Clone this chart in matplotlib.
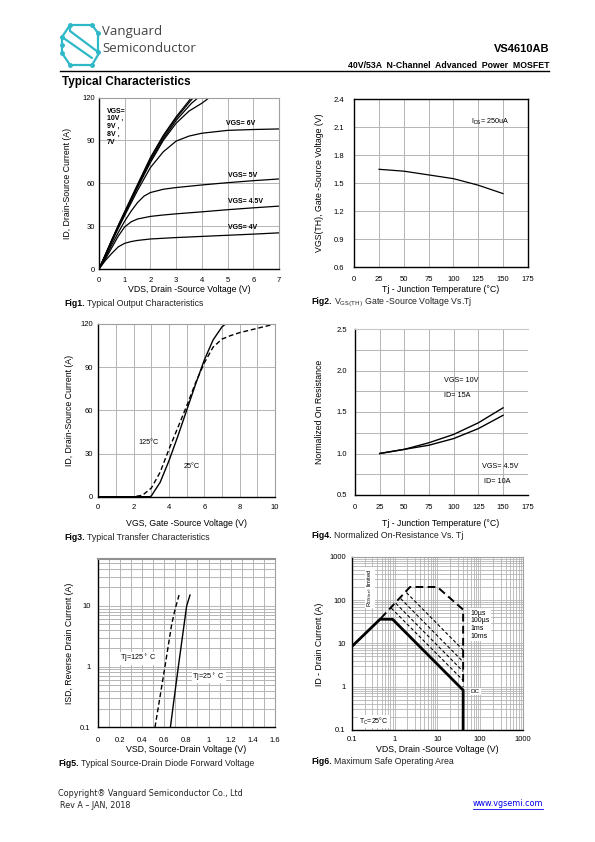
import matplotlib
matplotlib.use("Agg")
import matplotlib.pyplot as plt
from matplotlib.ticker import FixedLocator, NullFormatter, LogLocator
import warnings
warnings.filterwarnings("ignore")

W, H = 595, 842
NARROW = ['Liberation Sans Narrow', 'Liberation Sans', 'DejaVu Sans']
ARIAL = ['Liberation Sans', 'DejaVu Sans']
GRID = '#b4b4b4'

# ---------------- data ----------------
# Fig1 output characteristics
f1_x_10v = [0, 0.25, 0.5, 0.75, 1, 1.5, 2, 2.5, 3, 3.6, 3.8]
f1_y_10v = [0, 10.2, 20.6, 30.6, 40.2, 59.2, 78, 93.5, 106.5, 120, 124]
f1_x_9v = [0, 0.25, 0.5, 0.75, 1, 1.5, 2, 2.5, 3, 3.6, 3.9]
f1_y_9v = [0, 10, 20.3, 30.2, 39.7, 58.5, 77, 92.5, 105.5, 118.5, 124]
f1_x_8v = [0, 0.25, 0.5, 0.75, 1, 1.5, 2, 2.5, 3, 3.6, 4.0]
f1_y_8v = [0, 9.8, 20, 29.8, 39.2, 57.8, 75.8, 91, 104, 116, 122]
f1_x_7v = [0, 0.25, 0.5, 0.75, 1, 1.5, 2, 2.5, 3, 3.5, 4, 4.3, 4.6]
f1_y_7v = [0, 9.5, 19.5, 29.3, 38.6, 57, 74.5, 90, 102, 110.5, 116, 120, 123]
f1_x_6v = [0, 0.25, 0.5, 0.75, 1, 1.5, 2, 2.5, 3, 3.5, 4, 5, 6, 7]
f1_y_6v = [0, 9.2, 19, 28.5, 37.5, 55, 71, 82, 89.5, 93, 95, 97, 97.6, 98]
f1_x_5v = [0, 0.25, 0.5, 0.75, 1, 1.25, 1.5, 1.75, 2, 2.5, 3, 4, 5, 6, 7]
f1_y_5v = [0, 8, 17, 25.5, 33.5, 40.5, 46.5, 51, 53.5, 55.8, 57, 58.8, 60.4, 61.8, 63]
f1_x_45v = [0, 0.25, 0.5, 0.75, 1, 1.25, 1.5, 2, 2.5, 3, 4, 5, 6, 7]
f1_y_45v = [0, 7, 15, 23, 29.5, 33, 35, 36.8, 37.8, 38.6, 40, 41.5, 42.8, 44]
f1_x_4v = [0, 0.25, 0.5, 0.75, 1, 1.25, 1.5, 2, 3, 4, 5, 6, 7]
f1_y_4v = [0, 6, 11, 15.5, 18, 19.2, 20, 21, 22, 22.8, 23.6, 24.4, 25.3]

# Fig2 threshold voltage vs Tj
f2_tj = [25, 50, 75, 100, 125, 150]
f2_vth = [1.65, 1.63, 1.59, 1.55, 1.48, 1.39]

# Fig3 transfer characteristics
f3_vgs_25 = [0, 2.9, 3.0, 3.5, 4.0, 4.5, 5.0, 5.5, 6.0, 6.5, 7.0, 7.2]
f3_id_25 = [0, 0, 0.5, 10, 25, 42, 60, 78, 95, 109, 118, 120]
f3_vgs_125 = [0, 2.0, 2.5, 3.0, 3.5, 4.0, 4.5, 5.0, 5.5, 6.0, 6.5, 7.0, 7.5, 8.0, 9.0, 10.0]
f3_id_125 = [0, 0, 1, 6, 17, 33, 48, 63, 79, 93, 104, 109.5, 112, 114, 117, 120]

# Fig4 normalized on-resistance
f4_tj = [25, 50, 75, 100, 125, 150]
f4_r_10v = [1.0, 1.05, 1.13, 1.23, 1.37, 1.55]
f4_r_45v = [1.0, 1.05, 1.10, 1.18, 1.30, 1.46]

# Fig5 body diode
f5_vsd_125 = [0.517, 0.56, 0.607, 0.668, 0.70, 0.734]
f5_isd_125 = [0.1, 0.3, 1.0, 5.0, 9.0, 15.0]
f5_vsd_25 = [0.656, 0.69, 0.728, 0.773, 0.803, 0.833]
f5_isd_25 = [0.1, 0.3, 1.0, 4.0, 10.0, 15.0]

# Fig6 SOA
f6_dc_v = [0.1, 0.46, 0.9, 40, 40]
f6_dc_i = [8.4, 36, 36, 0.83, 0.1]
f6_lim_v = [0.48, 2.3, 10, 40, 40]
f6_lim_i = [38, 200, 200, 60, 1.0]
f6_10us_v = [1.9, 40]
f6_10us_i = [148, 7.0]
f6_100us_v = [1.39, 40]
f6_100us_i = [108, 3.75]
f6_1ms_v = [1.07, 40]
f6_1ms_i = [84, 2.25]
f6_10ms_v = [0.84, 40]
f6_10ms_i = [65, 1.4]

fig = plt.figure(figsize=(W / 100, H / 100), dpi=100)


def rect(l, t, r, b):
    return [l / W, 1 - b / H, (r - l) / W, (b - t) / H]


def T(x, y, s, **kw):
    return fig.text(x / W, 1 - y / H, s, **kw)


def style(ax, xpad, ypad, gray_tr=True):
    ax.tick_params(which='both', length=0, labelsize=5.5, pad=0)
    ax.tick_params(axis='x', pad=xpad * 0.72)
    ax.tick_params(axis='y', pad=ypad * 0.72)
    for lab in ax.get_xticklabels() + ax.get_yticklabels():
        lab.set_family(NARROW)
    for s in ['left', 'bottom']:
        ax.spines[s].set_color('black')
        ax.spines[s].set_linewidth(1.0)
    for s in ['top', 'right']:
        ax.spines[s].set_color('#a0a0a0' if gray_tr else 'black')
        ax.spines[s].set_linewidth(0.8 if gray_tr else 1.0)
    ax.set_axisbelow(True)


def caption(x, y, num, txt):
    t1 = T(x, y, num, fontsize=6.3, fontweight='bold', family=ARIAL, va='center')
    fig.canvas.draw()
    bb = t1.get_window_extent()
    T(bb.x1 + 2, y, txt, fontsize=6.3, family=ARIAL, va='center', color='#222222')


# ---------------- header ----------------
teal = '#2fb8c8'
logo_lines = [
    ([70, 92], [25, 25]), ([70, 62], [25, 37]), ([62, 62], [37, 45]),
    ([62, 92], [37, 58]), ([70, 98], [31, 52]), ([92, 98], [25, 33]),
    ([98, 98], [33, 52]), ([70, 92], [65, 65]), ([92, 98], [65, 55]),
    ([62, 70], [53, 65]), ([62, 62], [45, 53]), ([70, 70], [25, 31]),
]
lax = fig.add_axes([0, 0, 1, 1], facecolor='none')
lax.set_xlim(0, W)
lax.set_ylim(H, 0)
lax.axis('off')
for xs, ys in logo_lines:
    lax.plot(xs, ys, color=teal, lw=1.6, solid_capstyle='round')
node_x = [70, 92, 62, 62, 98, 98, 70, 92, 62]
node_y = [25, 25, 37, 53, 33, 52, 65, 65, 45]
lax.plot(node_x, node_y, 'o', color=teal, ms=2.5)
lax.plot([60, 549], [71, 71], color='black', lw=1.0)

T(102, 31, 'Vanguard', fontsize=9.5, family=['Open Sans', 'DejaVu Sans'], color='#444444', va='center')
T(102, 48, 'Semiconductor', fontsize=9.5, family=['Open Sans', 'DejaVu Sans'], color='#444444', va='center')
T(549, 49, 'VS4610AB', fontsize=8, fontweight='bold', family=ARIAL, ha='right', va='center')
T(549, 65, '40V/53A  N-Channel  Advanced  Power  MOSFET', fontsize=6.3, fontweight='bold',
  family=ARIAL, ha='right', va='center')
T(62, 82, 'Typical Characteristics', fontsize=8.5, fontweight='bold', family=ARIAL, va='center')

# ---------------- Fig1 ----------------
ax1 = fig.add_axes(rect(99, 97.5, 279, 269))
for xs, ys in [(f1_x_10v, f1_y_10v), (f1_x_9v, f1_y_9v), (f1_x_8v, f1_y_8v), (f1_x_7v, f1_y_7v),
               (f1_x_6v, f1_y_6v), (f1_x_5v, f1_y_5v), (f1_x_45v, f1_y_45v), (f1_x_4v, f1_y_4v)]:
    ax1.plot(xs, ys, color='black', lw=0.9)
ax1.set_xlim(0, 7)
ax1.set_ylim(0, 120)
ax1.set_xticks(range(0, 8))
ax1.set_yticks([0, 30, 60, 90, 120])
ax1.grid(True, color=GRID, lw=0.7)
style(ax1, 8, 4)
bold_n = dict(fontsize=5, fontweight='bold', family=NARROW, va='center')
ax1.text(4.95, 102, 'VGS= 6V', **bold_n)
ax1.text(5.0, 65.7, 'VGS= 5V', **bold_n)
ax1.text(5.0, 47, 'VGS= 4.5V', **bold_n)
ax1.text(5.0, 29, 'VGS= 4V', **bold_n)
ax1.text(0.3, 113, 'VGS=\n10V ,\n9V ,\n8V ,\n7V', fontsize=5, fontweight='bold', family=NARROW,
         va='top', linespacing=1.15)
T(68, 183, 'ID, Drain-Source Current (A)', rotation=90, fontsize=6.3, family=ARIAL, ha='center', va='center')
T(189, 290, 'VDS, Drain -Source Voltage (V)', fontsize=6.3, family=ARIAL, ha='center', va='center')
caption(64, 303, 'Fig1.', 'Typical Output Characteristics')

# ---------------- Fig2 ----------------
ax2 = fig.add_axes(rect(354.3, 99.3, 527.7, 267.3))
ax2.plot(f2_tj, f2_vth, color='black', lw=0.9)
ax2.set_xlim(0, 175)
ax2.set_ylim(0.6, 2.4)
ax2.set_xticks(range(0, 176, 25))
ax2.set_yticks([0.6, 0.9, 1.2, 1.5, 1.8, 2.1, 2.4])
ax2.set_yticklabels(['0.6', '0.9', '1.2', '1.5', '1.8', '2.1', '2.4'])
ax2.grid(True, color=GRID, lw=0.7)
style(ax2, 9, 10, gray_tr=False)
ax2.text(117.5, 2.155, r'I$_{\rm DS}$= 250uA', fontsize=5.2, family=NARROW, va='center')
T(320, 183, 'VGS(TH), Gate -Source Voltage (V)', rotation=90, fontsize=6.3, family=ARIAL,
  ha='center', va='center')
T(441, 290, 'Tj - Junction Temperature (°C)', fontsize=6.3, family=ARIAL, ha='center', va='center')
caption(311, 302, 'Fig2.', r'V$_{\rm GS(TH)}$ Gate -Source Voltage Vs.Tj')

# ---------------- Fig3 ----------------
ax3 = fig.add_axes(rect(98.3, 324, 275, 496.7))
ax3.plot(f3_vgs_25, f3_id_25, color='black', lw=1.0)
ax3.plot(f3_vgs_125, f3_id_125, color='black', lw=1.0, dashes=(3.5, 2))
ax3.set_xlim(0, 10)
ax3.set_ylim(0, 120)
ax3.set_xticks(range(0, 11, 2))
ax3.xaxis.set_minor_locator(FixedLocator(range(1, 11, 2)))
ax3.set_yticks([0, 30, 60, 90, 120])
ax3.grid(True, which='both', color=GRID, lw=0.7)
style(ax3, 7, 5.5)
ax3.text(2.26, 37.8, '125°C', fontsize=5.2, family=NARROW, va='center')
ax3.text(4.81, 20.8, '25°C', fontsize=5.2, family=NARROW, va='center')
T(69, 410, 'ID, Drain-Source Current (A)', rotation=90, fontsize=6.3, family=ARIAL, ha='center', va='center')
T(186, 524, 'VGS, Gate -Source Voltage (V)', fontsize=6.3, family=ARIAL, ha='center', va='center')
caption(64, 538, 'Fig3.', 'Typical Transfer Characteristics')

# ---------------- Fig4 ----------------
ax4 = fig.add_axes(rect(355, 329, 527.7, 495))
ax4.plot(f4_tj, f4_r_10v, color='black', lw=1.0)
ax4.plot(f4_tj, f4_r_45v, color='black', lw=1.0)
ax4.set_xlim(0, 175)
ax4.set_ylim(0.5, 2.5)
ax4.set_xticks(range(0, 176, 25))
ax4.set_yticks([0.5, 1.0, 1.5, 2.0, 2.5])
ax4.set_yticklabels(['0.5', '1.0', '1.5', '2.0', '2.5'])
ax4.yaxis.set_minor_locator(FixedLocator([0.75, 1.25, 1.75, 2.25]))
ax4.yaxis.set_minor_formatter(NullFormatter())
ax4.grid(True, which='both', color=GRID, lw=0.7)
style(ax4, 9, 7.7)
ax4.spines['right'].set_visible(False)
ax4.spines['top'].set_color('#c8c8c8')
lab4 = dict(fontsize=5.2, family=NARROW, va='center')
ax4.text(90.5, 1.877, 'VGS= 10V', **lab4)
ax4.text(90.5, 1.693, 'ID= 15A', **lab4)
ax4.text(128.4, 0.841, 'VGS= 4.5V', **lab4)
ax4.text(131, 0.66, 'ID= 10A', **lab4)
T(320, 412, 'Normalized On Resistance', rotation=90, fontsize=6.3, family=ARIAL, ha='center', va='center')
T(441, 524, 'Tj - Junction Temperature (°C)', fontsize=6.3, family=ARIAL, ha='center', va='center')
caption(311, 535, 'Fig4.', 'Normalized On-Resistance Vs. Tj')

# ---------------- Fig5 ----------------
ax5 = fig.add_axes(rect(97.7, 558.5, 275, 727.3))
ax5.plot(f5_vsd_125, f5_isd_125, color='black', lw=1.0, dashes=(3.5, 2))
ax5.plot(f5_vsd_25, f5_isd_25, color='black', lw=1.0)
ax5.set_yscale('log')
ax5.set_xlim(0, 1.6)
ax5.set_ylim(0.1, 60)
ax5.set_xticks([0, 0.2, 0.4, 0.6, 0.8, 1.0, 1.2, 1.4, 1.6])
ax5.set_xticklabels(['0', '0.2', '0.4', '0.6', '0.8', '1', '1.2', '1.4', '1.6'])
ax5.xaxis.set_minor_locator(FixedLocator([0.1, 0.3, 0.5, 0.7, 0.9, 1.1, 1.3, 1.5]))
ax5.set_yticks([0.1, 1, 10])
ax5.set_yticklabels(['0.1', '1', '10'])
ax5.yaxis.set_minor_locator(LogLocator(base=10, subs=range(2, 10)))
ax5.yaxis.set_minor_formatter(NullFormatter())
ax5.grid(True, which='both', color=GRID, lw=0.7)
style(ax5, 10, 7)
ax5.spines['top'].set_color('#909090')
ax5.spines['top'].set_linewidth(1.5)
lab5 = dict(fontsize=5.2, family=NARROW, va='center',
            bbox=dict(facecolor='white', edgecolor='none', pad=0.6))
ax5.text(0.2, 1.37, 'Tj=125$^\\circ$ C', **lab5)
ax5.text(0.855, 0.68, 'Tj=25$^\\circ$ C', **lab5)
T(69, 643, 'ISD, Reverse Drain Current (A)', rotation=90, fontsize=6.3, family=ARIAL, ha='center', va='center')
T(186, 750, 'VSD, Source-Drain Voltage (V)', fontsize=6.3, family=ARIAL, ha='center', va='center')
caption(58, 763, 'Fig5.', 'Typical Source-Drain Diode Forward Voltage')

# ---------------- Fig6 ----------------
ax6 = fig.add_axes(rect(351.7, 556.7, 523, 730))
ax6.plot(f6_dc_v, f6_dc_i, color='black', lw=2.0)
ax6.plot(f6_lim_v, f6_lim_i, color='black', lw=1.4, dashes=(4, 2.2))
for xs, ys in [(f6_10us_v, f6_10us_i), (f6_100us_v, f6_100us_i), (f6_1ms_v, f6_1ms_i), (f6_10ms_v, f6_10ms_i)]:
    ax6.plot(xs, ys, color='black', lw=0.8, dashes=(3, 2))
ax6.set_xscale('log')
ax6.set_yscale('log')
ax6.set_xlim(0.1, 1000)
ax6.set_ylim(0.1, 1000)
ax6.set_xticks([0.1, 1, 10, 100, 1000])
ax6.set_xticklabels(['0.1', '1', '10', '100', '1000'])
ax6.set_yticks([0.1, 1, 10, 100, 1000])
ax6.set_yticklabels(['0.1', '1', '10', '100', '1000'])
for a in (ax6.xaxis, ax6.yaxis):
    a.set_minor_locator(LogLocator(base=10, subs=range(2, 10)))
    a.set_minor_formatter(NullFormatter())
ax6.grid(True, which='both', color=GRID, lw=0.6)
style(ax6, 6, 6)
wb = dict(facecolor='white', edgecolor='none', pad=0.8)
ax6.text(0.27, 190, r'R$_{\rm DS(on)}$ limited', rotation=90, fontsize=4.2, family=NARROW,
         ha='center', va='center', bbox=wb)
ax6.text(60, 27, '10µs\n100µs\n1ms\n10ms', fontsize=5, family=NARROW, va='center',
         linespacing=1.15, bbox=wb)
ax6.text(60, 0.78, 'DC', fontsize=4.5, family=NARROW, va='center', bbox=wb)
ax6.text(0.15, 0.155, r'T$_{\rm C}$=25°C', fontsize=5, family=NARROW, va='center', bbox=wb)
T(319, 644, 'ID - Drain Current (A)', rotation=90, fontsize=6.3, family=ARIAL, ha='center', va='center')
T(437, 750, 'VDS, Drain -Source Voltage (V)', fontsize=6.3, family=ARIAL, ha='center', va='center')
caption(311, 762, 'Fig6.', 'Maximum Safe Operating Area')

# ---------------- footer ----------------
T(58, 793, 'Copyright® Vanguard Semiconductor Co., Ltd', fontsize=5.8, family=['DejaVu Sans'],
  va='center', color='#222222')
T(60, 805, 'Rev A – JAN, 2018', fontsize=5.8, family=['DejaVu Sans'], va='center', color='#222222')
url = T(543, 804, 'www.vgsemi.com', fontsize=5.8, family=['DejaVu Sans'], va='center', ha='right',
        color='#0000ee')
fig.canvas.draw()
ub = url.get_window_extent()
lax.plot([ub.x0, ub.x1], [808.5, 808.5], color='#0000ee', lw=0.6)

fig.savefig('out.png', dpi=100)
